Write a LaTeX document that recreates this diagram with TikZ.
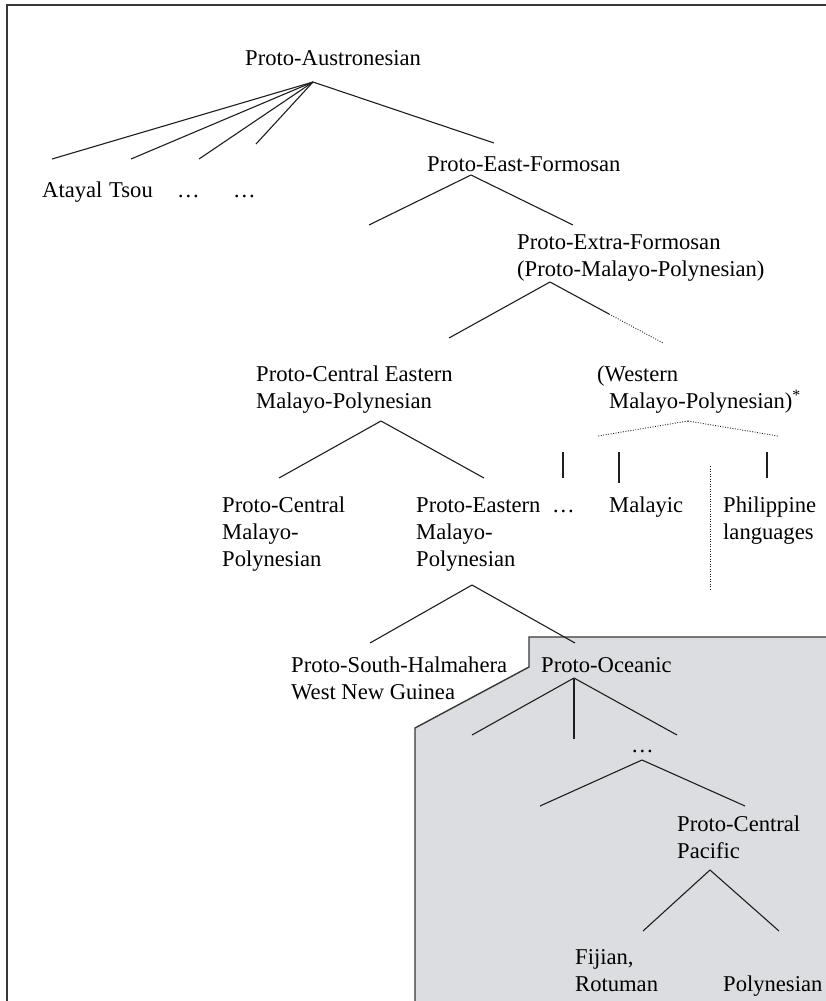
\documentclass[tikz,border=0pt]{standalone}
\usepackage{fontspec}
\setmainfont{Liberation Serif}
\definecolor{boxgrey}{RGB}{220,221,224}
\definecolor{edgegrey}{RGB}{55,55,55}
\definecolor{inkline}{RGB}{30,30,30}
\begin{document}
\begin{tikzpicture}[x=1pt,y=-1pt,
  lbl/.style={inner sep=0pt, anchor=base west, align=left, font=\fontsize{22.6pt}{27pt}\selectfont},
  branch/.style={draw=inkline, line width=1.1pt},
  dotbranch/.style={draw=inkline, line width=0.9pt, dash pattern=on 0.9pt off 1.6pt},
  frameline/.style={draw=edgegrey, line width=2pt},
  shadeedge/.style={draw=edgegrey, line width=1.4pt}]
\useasboundingbox (0,0) rectangle (825,1001);
% shaded Oceanic region
\fill[boxgrey] (415,1002) -- (415,728) -- (529,667) -- (529,637) -- (826,637) -- (826,1002) -- cycle;
\draw[shadeedge] (415,1002) -- (415,728) -- (529,667) -- (529,637) -- (826,637);
% frame
\draw[frameline] (7,1002) -- (7,5) -- (826,5);

% labels (base west = baseline of the last line)
\node[lbl] (pan) at (245,65) {Proto-Austronesian};
\node[lbl] (ata) at (42,197) {Atayal};
\node[lbl] (tso) at (109,197) {Tsou};
\node[lbl] (dA) at (177,197) {…};
\node[lbl] (dB) at (233,197) {…};
\node[lbl] (pef) at (427,171) {Proto-East-Formosan};
\node[lbl] (pxf) at (517,276) {Proto-Extra-Formosan\\(Proto-Malayo-Polynesian)};
\node[lbl] (pce) at (256,408) {Proto-Central Eastern\\Malayo-Polynesian};
\node[lbl] (wmp) at (597,408) {(Western\\\hspace*{12pt}Malayo-Polynesian)\textsuperscript{*}};
\node[lbl] (pcm) at (222,566) {Proto-Central\\Malayo-\\Polynesian};
\node[lbl] (pem) at (416,566) {Proto-Eastern\\Malayo-\\Polynesian};
\node[lbl] (dC) at (552,512) {…};
\node[lbl] (mal) at (609,512) {Malayic};
\node[lbl] (phl) at (723,539) {Philippine\\languages};
\node[lbl] (psh) at (291,699) {Proto-South-Halmahera\\West New Guinea};
\node[lbl] (poc) at (541,672) {Proto-Oceanic};
\node[lbl] (dD) at (631,752) {…};
\node[lbl] (pcp) at (677,858) {Proto-Central\\Pacific};
\node[lbl] (fij) at (575,991) {Fijian,\\Rotuman};
\node[lbl] (pol) at (723,991) {Polynesian};

% branch points
\coordinate (panT) at (313,82);
\coordinate (panA) at (52,159);
\coordinate (panB) at (131,159);
\coordinate (panC) at (199,159);
\coordinate (panD) at (256,144);
\coordinate (panE) at (494,143);
\coordinate (pefT) at (471,175);
\coordinate (pefA) at (369,225);
\coordinate (pefB) at (573,225);
\coordinate (pxfT) at (550,282);
\coordinate (pxfA) at (449,338);
\coordinate (pxfB) at (609,314);
\coordinate (pxfC) at (663,343);
\coordinate (pceT) at (381,421);
\coordinate (pceA) at (279,478);
\coordinate (pceB) at (484,478);
\coordinate (wmpT) at (688,421);
\coordinate (wmpA) at (598,436);
\coordinate (wmpB) at (778,436);
\coordinate (vA1) at (563,452);
\coordinate (vA2) at (563,478);
\coordinate (vB1) at (619,452);
\coordinate (vB2) at (619,483);
\coordinate (vC1) at (767,452);
\coordinate (vC2) at (767,478);
\coordinate (vD1) at (710,466);
\coordinate (vD2) at (710,589);
\coordinate (pemT) at (472,585);
\coordinate (pemA) at (370,643);
\coordinate (pemB) at (575,643);
\coordinate (pocT) at (574,678);
\coordinate (pocA) at (472,735);
\coordinate (pocB) at (574,739);
\coordinate (pocC) at (677,735);
\coordinate (dDT) at (642,760);
\coordinate (dDA) at (540,806);
\coordinate (dDB) at (745,806);
\coordinate (pcpT) at (710,870);
\coordinate (pcpA) at (643,931);
\coordinate (pcpB) at (779,931);

% connectors
\draw[branch] (panT) -- (panA);
\draw[branch] (panT) -- (panB);
\draw[branch] (panT) -- (panC);
\draw[branch] (panT) -- (panD);
\draw[branch] (panT) -- (panE);
\draw[branch] (pefT) -- (pefA);
\draw[branch] (pefT) -- (pefB);
\draw[branch] (pxfT) -- (pxfA);
\draw[branch] (pxfT) -- (pxfB);
\draw[dotbranch] (pxfB) -- (pxfC);
\draw[branch] (pceT) -- (pceA);
\draw[branch] (pceT) -- (pceB);
\draw[dotbranch] (wmpT) -- (wmpA);
\draw[dotbranch] (wmpT) -- (wmpB);
\draw[branch] (vA1) -- (vA2);
\draw[branch] (vB1) -- (vB2);
\draw[branch] (vC1) -- (vC2);
\draw[dotbranch] (vD1) -- (vD2);
\draw[branch] (pemT) -- (pemA);
\draw[branch] (pemT) -- (pemB);
\draw[branch] (pocT) -- (pocA);
\draw[branch] (pocT) -- (pocB);
\draw[branch] (pocT) -- (pocC);
\draw[branch] (dDT) -- (dDA);
\draw[branch] (dDT) -- (dDB);
\draw[branch] (pcpT) -- (pcpA);
\draw[branch] (pcpT) -- (pcpB);
\end{tikzpicture}
\end{document}
